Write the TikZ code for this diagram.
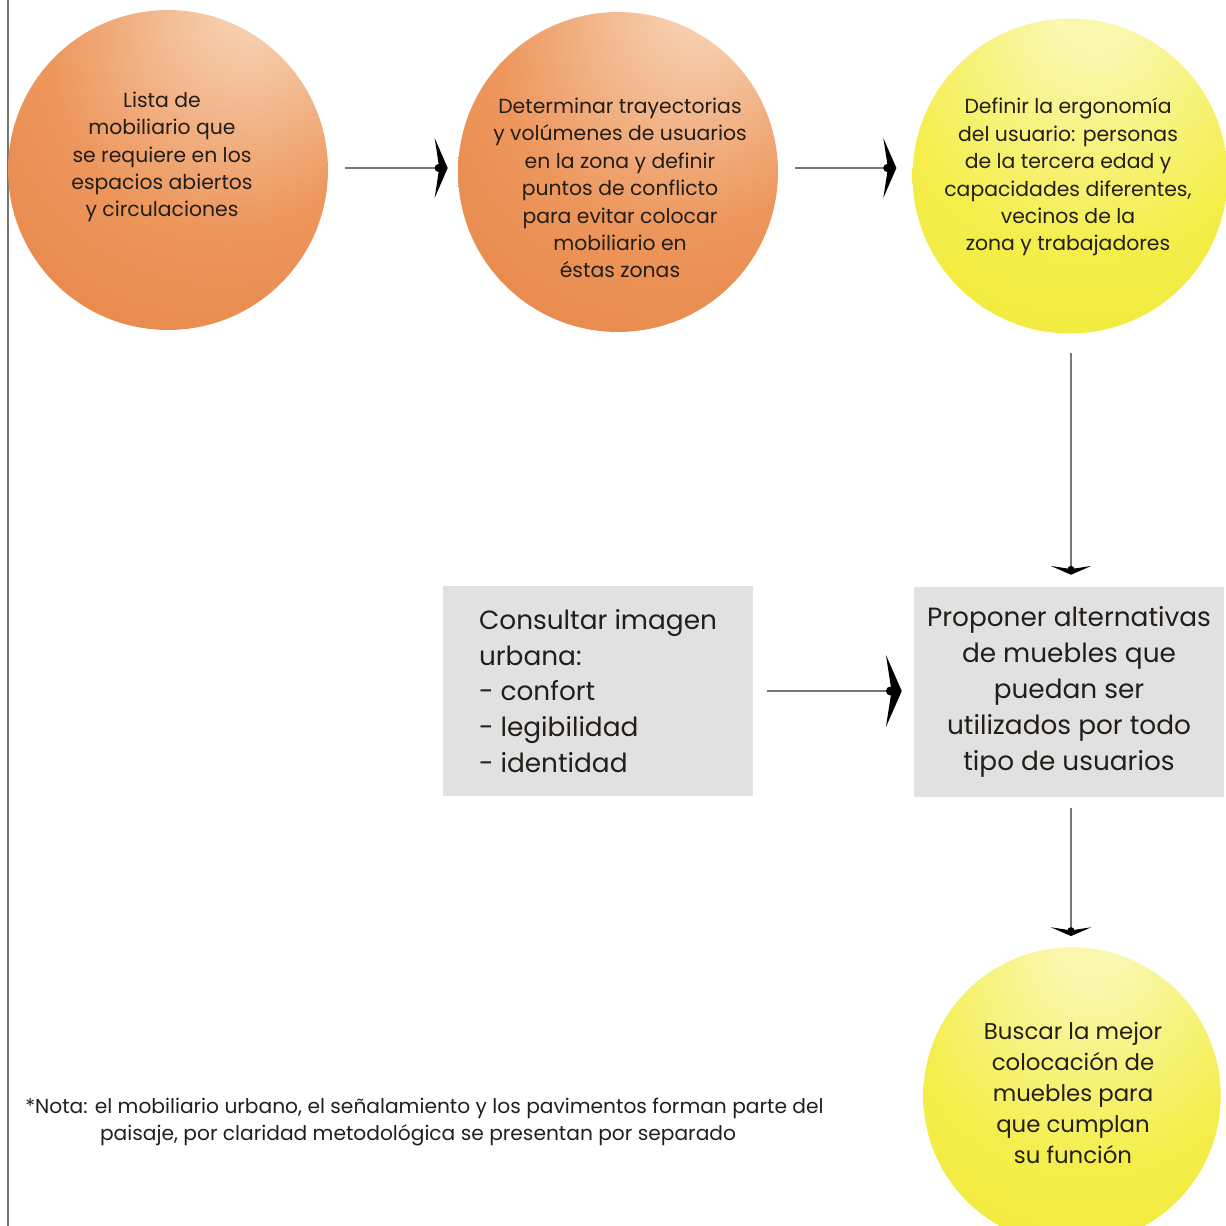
\documentclass[tikz,border=0pt]{standalone}
\usepackage{fontspec}
\setmainfont{Poppins}
\usetikzlibrary{arrows.meta}

\definecolor{orangehi}{RGB}{246,206,174}
\definecolor{orangemid}{RGB}{237,150,92}
\definecolor{orangeedge}{RGB}{226,122,58}
\definecolor{yellowhi}{RGB}{250,247,175}
\definecolor{yellowmid}{RGB}{244,238,75}
\definecolor{yellowedge}{RGB}{238,229,40}
\definecolor{boxgray}{RGB}{225,225,225}
\definecolor{linegray}{RGB}{120,120,120}
\definecolor{textdark}{RGB}{35,30,25}

\pgfdeclareradialshading{orangeball}{\pgfpoint{14bp}{28bp}}{color(0bp)=(orangehi); color(5bp)=(orangehi); color(28bp)=(orangemid); color(62bp)=(orangeedge); color(85bp)=(orangeedge)}
\pgfdeclareradialshading{yellowball}{\pgfpoint{4bp}{28bp}}{color(0bp)=(yellowhi); color(6bp)=(yellowhi); color(30bp)=(yellowmid); color(62bp)=(yellowedge); color(85bp)=(yellowedge)}

\begin{document}
\begin{tikzpicture}[x=0.02cm, y=-0.02cm,
    ball/.style={circle, shade, draw=none, minimum size=6.4cm, inner sep=0pt},
    balltext/.style={align=center, text=textdark, font=\fontsize{11.6}{15.6}\selectfont},
    graybox/.style={fill=boxgray, minimum width=6.2cm, minimum height=4.2cm, text=textdark, font=\fontsize{15}{20.4}\selectfont},
    flow/.style={draw=linegray, line width=0.7pt},
    bigtip/.style={-{Circle[black, length=4.6pt, sep=-4.6pt] Stealth[black, length=7.4pt, width=34pt, inset=2.6pt]}},
    widetip/.style={-{Circle[black, length=5pt, sep=-5pt] Stealth[black, length=9pt, width=41pt, inset=3.2pt]}},
    smalltip/.style={-{Circle[black, length=4pt, sep=-4pt] Stealth[black, length=5pt, width=23pt, inset=1.8pt]}}]
\useasboundingbox (0,0) rectangle (1226,1226);

% Frame
\draw[linegray, line width=0.8pt] (8,0) -- (8,1226);

% Circles
\node[ball, shading=orangeball] (lista) at (168,170) {};
\node[balltext] (listatxt) at (162,157) {Lista de\\mobiliario que\\se requiere en los\\espacios abiertos\\y circulaciones};

\node[ball, shading=orangeball] (trayect) at (618,172) {};
\node[balltext] (trayecttxt) at (620,188) {Determinar trayectorias\\y volúmenes de usuarios\\en la zona y definir\\puntos de conflicto\\para evitar colocar\\mobiliario en\\éstas zonas};

\node[ball, shading=yellowball, minimum size=6.3cm] (ergo) at (1070,176) {};
\node[balltext] (ergotxt) at (1068,177) {Definir la ergonomía\\del usuario: personas\\de la tercera edad y\\capacidades diferentes,\\vecinos de la\\zona y trabajadores};

\node[ball, shading=yellowball, minimum size=5.95cm] (buscar) at (1072,1096) {};
\node[balltext, font=\fontsize{13}{17.6}\selectfont] (buscartxt) at (1073,1093) {Buscar la mejor\\colocación de\\muebles para\\que cumplan\\su función};

% Boxes
\node[graybox, align=left] (imagen) at (598,691) {Consultar imagen\\urbana:\\- confort\\- legibilidad\\- identidad};
\node[graybox, align=center] (proponer) at (1069,692) {Proponer alternativas\\de muebles que\\puedan ser\\utilizados por todo\\tipo de usuarios};

% Arrows
\draw[flow, bigtip, shorten <=9.6pt, shorten >=5.7pt] (lista.east |- 0,168) -- (trayect.west |- 0,168);
\draw[flow, bigtip, shorten <=9.6pt, shorten >=9pt] (trayect.east |- 0,168) -- (ergo.west |- 0,168);
\draw[flow, smalltip, shorten <=11pt, shorten >=6.8pt] (ergo.south -| 1071,0) -- (proponer.north -| 1071,0);
\draw[flow, widetip, shorten <=8pt, shorten >=6.8pt] (imagen.east) -- (proponer.west |- imagen.east);
\draw[flow, smalltip, shorten <=6.2pt, shorten >=6.2pt] (proponer.south -| 1071,0) -- (buscar.north -| 1071,0);

% Note
\node[anchor=north west, inner sep=0pt, align=left, text=textdark, font=\fontsize{11.5}{15.3}\selectfont] (nota) at (25,1098) {*Nota: el mobiliario urbano, el señalamiento y los pavimentos forman parte del\\\hspace*{42.5pt}paisaje, por claridad metodológica se presentan por separado};

\end{tikzpicture}
\end{document}
